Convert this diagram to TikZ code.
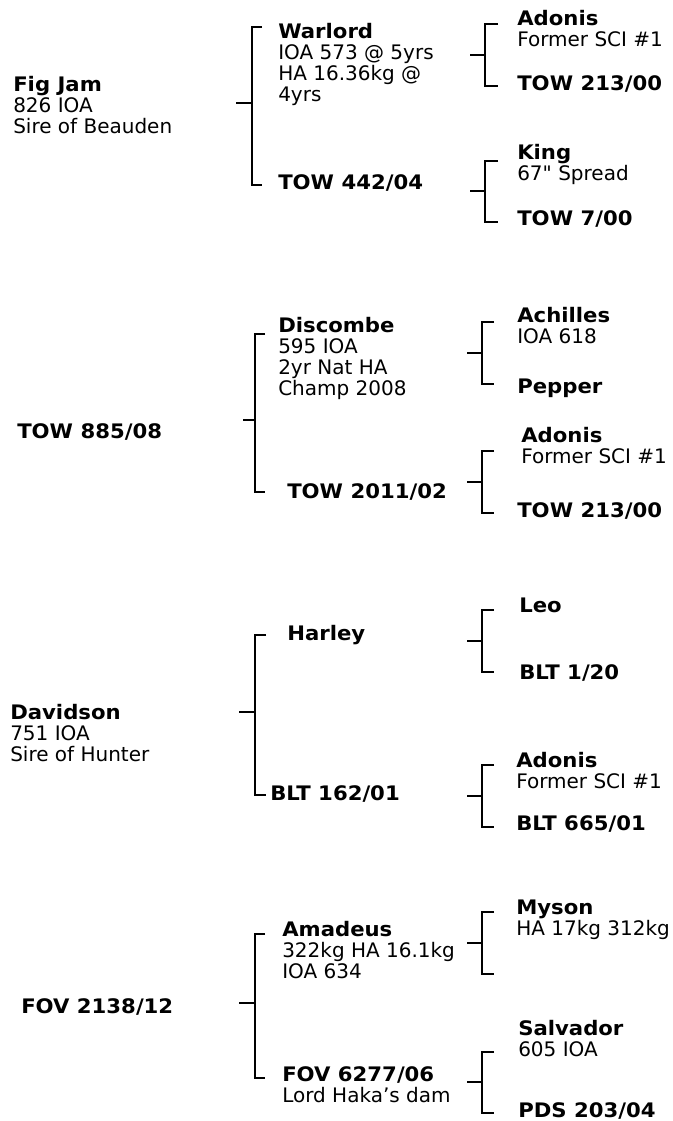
\documentclass[tikz,border=0pt]{standalone}
\usepackage{fontspec}
\setmainfont{DejaVu Sans}[BoldFeatures={FakeStretch=1.06}]
\usetikzlibrary{positioning}
\newcommand\straightquote{\XeTeXglyph\XeTeXcharglyph"22\relax}
\newcommand\dog[2]{\begin{tabular}[t]{@{}l@{}}\textbf{#1}#2\end{tabular}}

\begin{document}
\begin{tikzpicture}[x=0.75pt,y=-0.75pt,
    every node/.style={inner sep=0pt,anchor=base west,
      font=\fontsize{15}{15.75}\selectfont},
    link/.style={line width=1.3pt}]
  \useasboundingbox (0,0) rectangle (673,1121);
  % dogs
  \node (figjam)    at (13,91)   {\dog{Fig Jam}{\\826 IOA\\Sire of Beauden}};
  \node (warlord)   at (278,38)  {\dog{Warlord}{\\IOA 573 @ 5yrs\\HA 16.36kg @\\4yrs}};
  \node (towa)      at (278,189) {\dog{TOW 442/04}{}};
  \node (adonisa)   at (517,25)  {\dog{Adonis}{\\Former SCI \#1}};
  \node (towb)      at (517,90)  {\dog{TOW 213/00}{}};
  \node (king)      at (517,159) {\dog{King}{\\67\straightquote{} Spread}};
  \node (towc)      at (517,225) {\dog{TOW 7/00}{}};
  \node (towd)      at (17,438)  {\dog{TOW 885/08}{}};
  \node (discombe)  at (278,332) {\dog{Discombe}{\\595 IOA\\2yr Nat HA\\Champ 2008}};
  \node (towe)      at (287,498) {\dog{TOW 2011/02}{}};
  \node (achilles)  at (517,322) {\dog{Achilles}{\\IOA 618}};
  \node (pepper)    at (517,393) {\dog{Pepper}{}};
  \node (adonisb)   at (521,442) {\dog{Adonis}{\\Former SCI \#1}};
  \node (towf)      at (517,517) {\dog{TOW 213/00}{}};
  \node (davidson)  at (10,719)  {\dog{Davidson}{\\751 IOA\\Sire of Hunter}};
  \node (harley)    at (287,640) {\dog{Harley}{}};
  \node (blta)      at (270,800) {\dog{BLT 162/01}{}};
  \node (leo)       at (519,612) {\dog{Leo}{}};
  \node (bltb)      at (519,679) {\dog{BLT 1/20}{}};
  \node (adonisc)   at (516,767) {\dog{Adonis}{\\Former SCI \#1}};
  \node (bltc)      at (516,830) {\dog{BLT 665/01}{}};
  \node (fova)      at (21,1013) {\dog{FOV 2138/12}{}};
  \node (amadeus)   at (282,936) {\dog{Amadeus}{\\322kg HA 16.1kg\\IOA 634}};
  \node (fovb)      at (282,1081) {\dog{FOV 6277/06}{\\Lord Haka’s dam}};
  \node (myson)     at (516,914) {\dog{Myson}{\\HA 17kg 312kg}};
  \node (salvador)  at (518,1035) {\dog{Salvador}{\\605 IOA}};
  \node (pds)       at (518,1117) {\dog{PDS 203/04}{}};
  % brackets
  \foreach \n/\x/\t/\b/\s/\l/\r in {
      ba/252/27/185/103/236/262, bb/485/24/86/55/470/498, bc/485/161/222/191/470/498,
      bd/255/334/492/420/243/265, be/482/322/384/353/467/494, bf/482/451/513/482/467/494,
      bg/255/635/795/712/239/266, bh/482/610/672/641/467/494, bi/482/765/827/796/467/494,
      bj/255/934/1078/1003/239/265, bk/482/912/974/943/467/494, bl/482/1052/1113/1082/467/494}{
    \coordinate (\n) at (\x,\s);
    \draw[link] (\l,\s) -- (\n);
    \draw[link] (\r,\t) -| (\n) |- (\r,\b);}
\end{tikzpicture}
\end{document}
